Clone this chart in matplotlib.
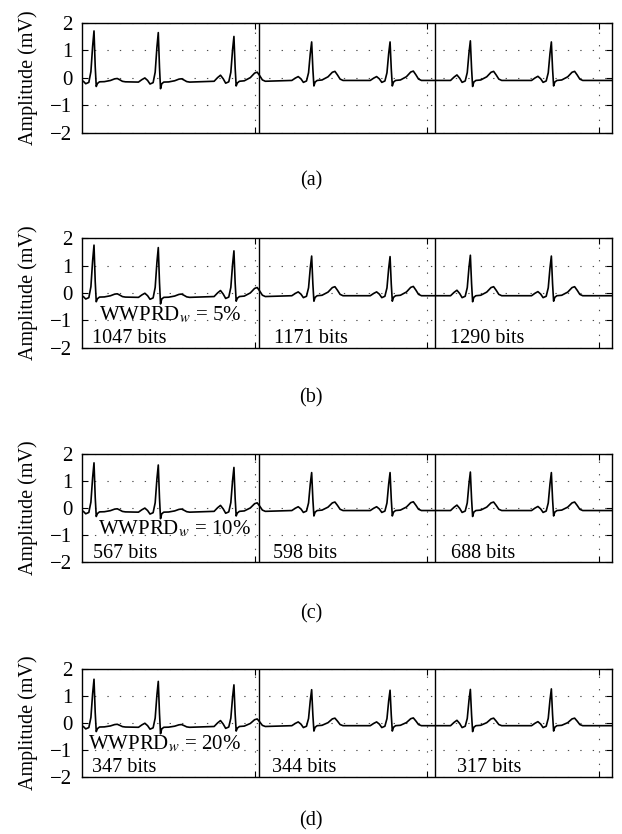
import numpy as np
import matplotlib.pyplot as plt

plt.rcParams['font.family'] = ['Liberation Serif', 'DejaVu Serif']
plt.rcParams['mathtext.fontset'] = 'stix'
plt.rcParams['axes.unicode_minus'] = True

# --- data (x in samples, y in mV) ---
seg_len = 1024
n_seg = 3
r_pos = [68, 441, 880, 1331, 1786, 2252, 2722]
base = [-0.15, -0.16, -0.13, -0.1, -0.1, -0.1, -0.1]
p_amp = [0.05, 0.15, 0.22, 0.14, 0.14, 0.2, 0.15]
t_amp = [0.12, 0.12, 0.33, 0.33, 0.34, 0.33, 0.33]
s_val = [-0.32, -0.4, -0.3, -0.3, -0.3, -0.32, -0.3]

r_amp = {
    'a': [1.70, 1.64, 1.50, 1.30, 1.30, 1.34, 1.30],
    'b': [1.75, 1.66, 1.54, 1.35, 1.33, 1.38, 1.35],
    'c': [1.66, 1.58, 1.49, 1.30, 1.30, 1.32, 1.30],
    'd': [1.63, 1.55, 1.42, 1.24, 1.22, 1.25, 1.27],
}
t_scale = {'a': 1.0, 'b': 1.0, 'c': 0.95, 'd': 0.85}

bits = {'b': [1047, 1171, 1290], 'c': [567, 598, 688], 'd': [347, 344, 317]}
wwprd = {'b': '5%', 'c': '10%', 'd': '20%'}
bits_x = {'b': [56, 1112, 2133], 'c': [64, 1105, 2140], 'd': [54, 1099, 2175]}
wwprd_x = {'b': 99, 'c': 93, 'd': 35}

# beat shape: offsets from the R peak (samples)
tmpl_off = [-115, -95, -78, -62, -48, -30, -18, -8, 0, 7, 13, 20, 32,
            60, 95, 120, 135, 150, 165, 182]


def beat(r, ra, pa, ta, sa, b):
    y = [b, b + 0.6 * pa, b + pa, b + 0.4 * pa, b - 0.07, b - 0.02,
         b + 0.2 * (ra - b), b + 0.7 * (ra - b), ra, b + 0.3 * (ra - b), sa,
         b - 0.06, b, b + 0.05 * ta, b + 0.4 * ta, b + 0.9 * ta, b + ta,
         b + 0.6 * ta, b + 0.15 * ta, b]
    x = [r + o for o in tmpl_off]
    return x, y


def trace(key):
    xs, ys = [], []
    for i in range(len(r_pos)):
        x, y = beat(r_pos[i], r_amp[key][i], p_amp[i],
                    t_amp[i] * t_scale[key], s_val[i], base[i])
        xs += x
        ys += y
    xs.append(n_seg * seg_len + 50)
    ys.append(base[-1])
    return xs, ys


fig = plt.figure(figsize=(6.22, 8.34), dpi=100)
rects = [(0.1323, 0.8409, 0.8511, 0.1319),
         (0.1323, 0.5831, 0.8511, 0.1312),
         (0.1323, 0.3261, 0.8511, 0.1300),
         (0.1323, 0.0687, 0.8511, 0.1288)]
keys = ['a', 'b', 'c', 'd']
label_y = [0.783, 0.523, 0.264, 0.0156]

for k, rect, ly in zip(keys, rects, label_y):
    ax = fig.add_axes(rect)
    x, y = trace(k)
    ax.plot(x, y, color='black', lw=1.2)
    for s in range(1, n_seg):
        ax.axvline(s * seg_len, color='black', lw=1.0)
    ax.set_xlim(0, n_seg * seg_len)
    ax.set_ylim(-2, 2)
    ax.set_yticks([-2, -1, 0, 1, 2])
    ax.set_xticks([1000, 2000, 3000])
    ax.set_xticklabels([])
    ax.grid(True, color='0.3', lw=0.8, linestyle=(0, (1.2, 10)))
    ax.tick_params(direction='in', top=True, right=True, length=4,
                   width=0.8, labelsize=15, pad=7)
    for sp in ax.spines.values():
        sp.set_linewidth(1.0)
    ax.set_ylabel('Amplitude (mV)', fontsize=14.5, labelpad=9)
    if k in bits:
        ax.text(wwprd_x[k], -0.99, 'WWPRD$_{w}$ = ' + wwprd[k],
                fontsize=15, va='baseline', ha='left')
        for s in range(n_seg):
            ax.text(bits_x[k][s], -1.84, '%d bits' % bits[k][s],
                    fontsize=14.5, va='baseline', ha='left')
    fig.text(0.5, ly, '(%s)' % k, fontsize=14.5, ha='center', va='center')

fig.savefig('out.png', dpi=100)
